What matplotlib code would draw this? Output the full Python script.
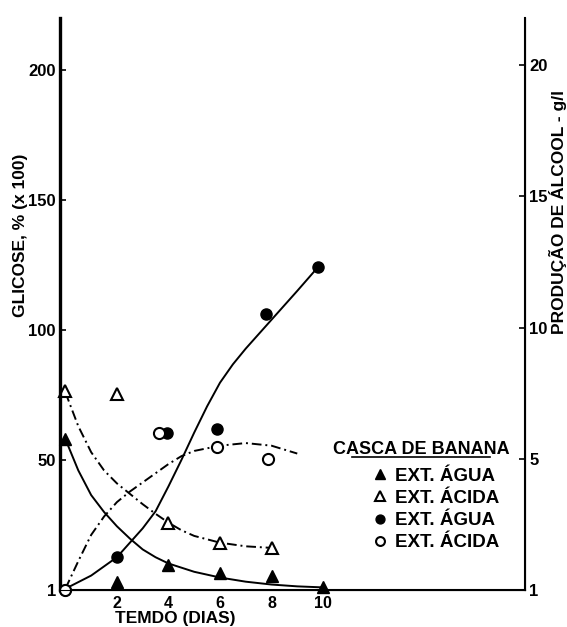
import matplotlib.pyplot as plt
from matplotlib.lines import Line2D

plt.rcParams['font.family'] = ['Liberation Sans', 'DejaVu Sans']
plt.rcParams['font.weight'] = 'bold'

# pontos medidos
dias_tri = [0, 2, 4, 6, 8, 10]
glic_agua = [58, 3.2, 9.5, 6.6, 5.3, 1.1]
dias_tri_ac = [0, 2, 4, 6, 8]
glic_acida = [76.5, 75.4, 25.9, 18.2, 16.2]

dias_circ = [0, 2, 3.95, 5.9, 7.8, 9.8]
alc_agua = [0, 1.27, 6.0, 6.15, 10.5, 12.3]
dias_circ_ac = [0, 3.65, 5.9, 7.85]
alc_acida = [0, 6.0, 5.45, 5.0]

# curvas ajustadas
t_glic_agua = [0, 0.5, 1, 1.5, 2, 2.5, 3, 3.5, 4, 5, 6, 7, 8, 9, 10]
c_glic_agua = [58, 46, 36.5, 30, 24.5, 19.8, 15.6, 12.6, 10.2, 7, 4.8, 3.2, 2.1, 1.4, 1.0]
t_glic_acida = [0, 0.5, 1, 1.5, 2, 2.5, 3, 3.5, 4, 4.5, 5, 6, 7, 8]
c_glic_acida = [76, 63, 53, 46, 41, 37, 33, 29.3, 25.9, 23, 20.8, 18.2, 16.8, 16.2]
t_alc_agua = [0, 1, 2, 3, 3.5, 4, 4.5, 5, 5.5, 6, 6.5, 7, 8, 9, 9.8]
c_alc_agua = [0.05, 0.55, 1.25, 2.35, 3.0, 3.95, 4.95, 6.0, 7.0, 7.9, 8.6, 9.2, 10.3, 11.4, 12.3]
t_alc_acida = [0, 0.5, 1, 1.5, 2, 2.5, 3, 3.5, 4, 4.5, 5, 6, 7, 8, 9]
c_alc_acida = [0.05, 1.1, 2.1, 2.8, 3.35, 3.75, 4.1, 4.45, 4.8, 5.1, 5.3, 5.5, 5.6, 5.5, 5.2]

x_ticks = [2, 4, 6, 8, 10]
y_ticks = [0, 50, 100, 150, 200]
y_labels = ['1', '50', '100', '150', '200']
y2_ticks = [0, 5, 10, 15, 20]
y2_labels = ['1', '5', '10', '15', '20']
leg_labels = ['EXT. ÁGUA', 'EXT. ÁCIDA', 'EXT. ÁGUA', 'EXT. ÁCIDA']

fig = plt.figure(figsize=(5.67, 6.27), dpi=100)
ax = fig.add_axes([60 / 567, 37 / 627, 465 / 567, 572 / 627])
ax2 = ax.twinx()

dd = (5, 2, 1, 2)
lw = 1.4

ax.plot(t_glic_agua, c_glic_agua, color='black', lw=lw)
ax.plot(t_glic_acida, c_glic_acida, color='black', lw=lw, dashes=dd)
ax2.plot(t_alc_agua, c_alc_agua, color='black', lw=lw)
ax2.plot(t_alc_acida, c_alc_acida, color='black', lw=lw, dashes=dd)

h1, = ax.plot(dias_tri, glic_agua, ls='none', marker='^', ms=8.5, color='black', clip_on=False)
h2, = ax.plot(dias_tri_ac, glic_acida, ls='none', marker='^', ms=8.5, mfc='white', mec='black', mew=1.5, clip_on=False)
h3, = ax2.plot(dias_circ, alc_agua, ls='none', marker='o', ms=8, color='black', clip_on=False)
h4, = ax2.plot(dias_circ_ac, alc_acida, ls='none', marker='o', ms=8, mfc='white', mec='black', mew=1.5, clip_on=False)

ax.set_xlim(-0.21, 17.84)
ax.set_ylim(0, 220)
ax2.set_ylim(0, 21.8)

for a in (ax, ax2):
    a.spines['top'].set_visible(False)
ax.spines['left'].set_linewidth(2.4)
ax2.spines['right'].set_linewidth(1.5)
ax.spines['bottom'].set_linewidth(1.5)

ax.set_xticks(x_ticks)
ax.set_xticklabels([str(v) for v in x_ticks])
ax.tick_params(axis='x', length=0, pad=4, labelsize=11.5)
ax.set_yticks(y_ticks)
ax.set_yticklabels(y_labels)
ax.tick_params(axis='y', direction='in', length=4, width=1.2, pad=3, labelsize=12)
ax2.set_yticks(y2_ticks)
ax2.set_yticklabels(y2_labels)
ax2.tick_params(axis='y', direction='in', length=4, width=1.2, pad=3, labelsize=12)

ax.set_xlabel('TEMDO (DIAS)', fontsize=12.5, fontweight='bold')
ax.xaxis.set_label_coords(0.247, -0.036)
ax.set_ylabel('GLICOSE, % (x 100)', fontsize=12.5, fontweight='bold')
ax.yaxis.set_label_coords(-0.068, 0.62)
ax2.set_ylabel('PRODUÇÃO DE ÁLCOOL - g/l', fontsize=12.5, fontweight='bold')
ax2.yaxis.set_label_coords(1.051, 0.66)

leg = ax2.legend([h1, h2, h3, h4], leg_labels,
                 loc='upper left', bbox_to_anchor=(0.671, 0.214),
                 frameon=False, fontsize=13.5, handlelength=0.8,
                 handletextpad=0.4, labelspacing=0.27, borderpad=0, borderaxespad=0,
                 markerscale=0.8)
for t in leg.get_texts():
    t.set_fontweight('bold')

ax2.text(0.778, 0.2465, 'CASCA DE BANANA', transform=ax2.transAxes, ha='center', va='center',
         fontsize=13, fontweight='bold')
# sublinhado do titulo da legenda
fig.add_artist(Line2D([352 / 567, 490 / 567], [1 - 457 / 627, 1 - 457 / 627],
                      color='black', lw=1.2))

fig.savefig('out.png', dpi=100)
